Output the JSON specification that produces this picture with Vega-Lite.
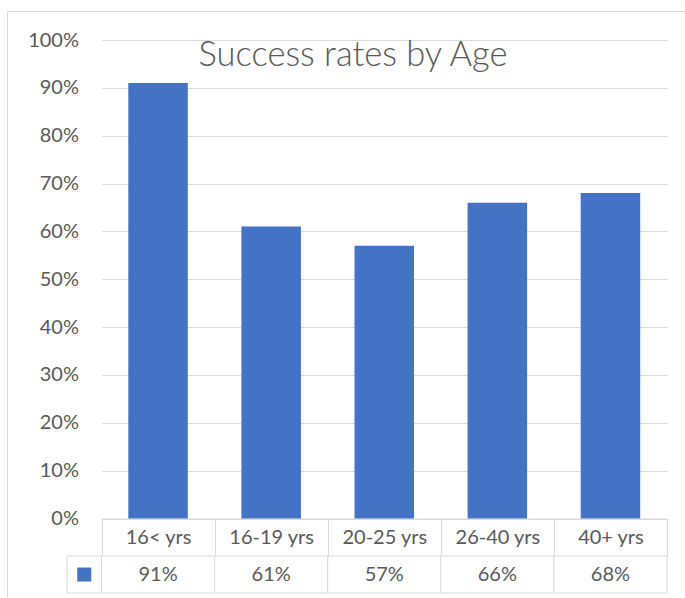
{
  "$schema": "https://vega.github.io/schema/vega-lite/v6.json",
  "width": 680,
  "height": 590,
  "autosize": "none",
  "padding": {"left": 7, "top": 11, "right": 0, "bottom": 0},
  "background": "white",
  "config": {
    "view": {"stroke": "#d9d9d9", "strokeWidth": 1},
    "font": "Lato"
  },
  "title": {
    "text": "Success rates by Age",
    "font": "Lato",
    "fontSize": 34.5,
    "fontWeight": 300,
    "color": "#595959",
    "anchor": "middle",
    "frame": "group",
    "baseline": "middle",
    "offset": -44,
    "dx": 6,
    "dy": 35
  },
  "data": {
    "values": [
      {"age": "16< yrs", "rate": 0.91},
      {"age": "16-19 yrs", "rate": 0.61},
      {"age": "20-25 yrs", "rate": 0.57},
      {"age": "26-40 yrs", "rate": 0.66},
      {"age": "40+ yrs", "rate": 0.68}
    ]
  },
  "layer": [
    {
      "mark": {"type": "bar", "color": "#4472c4", "width": {"band": 0.526}},
      "encoding": {
        "x": {
          "field": "age", "type": "nominal", "sort": null,
          "scale": {"range": [94.5, 660], "paddingInner": 0, "paddingOuter": 0},
          "axis": {
            "title": null, "orient": "bottom", "offset": -82.5,
            "domain": true, "domainColor": "#d9d9d9", "domainWidth": 1,
            "ticks": true, "tickBand": "extent", "tickSize": 38, "tickColor": "#d9d9d9", "tickWidth": 1,
            "labelAngle": 0, "labelAlign": "center", "labelBaseline": "middle",
            "labelPadding": -19.5, "labelFont": "Lato", "labelFontSize": 20, "labelColor": "#595959"
          }
        },
        "y": {
          "field": "rate", "type": "quantitative",
          "scale": {"domain": [0, 1], "range": [507.5, 29], "nice": false},
          "axis": {
            "title": null, "orient": "left", "offset": -94.5,
            "domain": false, "ticks": false, "tickSize": 0,
            "grid": true, "gridColor": "#d9d9d9", "gridWidth": 1,
            "values": [0, 0.1, 0.2, 0.3, 0.4, 0.5, 0.6, 0.7, 0.8, 0.9, 1],
            "format": ".0%", "labelPadding": 23, "labelFont": "Lato", "labelFontSize": 20, "labelColor": "#595959"
          }
        }
      }
    },
    {
      "mark": {"type": "rect", "fill": "white", "stroke": "#d9d9d9", "strokeWidth": 1},
      "encoding": {
        "x": {"field": "age", "type": "nominal", "sort": null,
              "scale": {"range": [94.5, 660], "paddingInner": 0, "paddingOuter": 0}, "axis": null},
        "y": {"datum": "values", "type": "nominal",
              "scale": {"range": [545, 582], "paddingInner": 0, "paddingOuter": 0}, "axis": null}
      }
    },
    {
      "mark": {"type": "text", "font": "Lato", "fontSize": 20, "color": "#595959", "baseline": "middle"},
      "encoding": {
        "x": {"field": "age", "type": "nominal", "sort": null,
              "scale": {"range": [94.5, 660], "paddingInner": 0, "paddingOuter": 0}, "axis": null},
        "y": {"datum": "values", "type": "nominal",
              "scale": {"range": [545, 582], "paddingInner": 0, "paddingOuter": 0}, "axis": null},
        "text": {"field": "rate", "type": "quantitative", "format": ".0%"}
      }
    },
    {
      "data": {"values": [{"series": "Success rate"}]},
      "mark": {"type": "rect", "fill": "white", "stroke": "#d9d9d9", "strokeWidth": 1},
      "encoding": {
        "x": {"field": "series", "type": "nominal",
              "scale": {"range": [60, 94.5], "paddingInner": 0, "paddingOuter": 0}, "axis": null},
        "y": {"field": "series", "type": "nominal",
              "scale": {"range": [545, 582], "paddingInner": 0, "paddingOuter": 0}, "axis": null}
      }
    },
    {
      "data": {"values": [{"series": "Success rate"}]},
      "mark": {"type": "point", "shape": "square", "filled": true, "size": 196, "color": "#4472c4", "opacity": 1},
      "encoding": {
        "x": {"field": "series", "type": "nominal",
              "scale": {"range": [60, 94.5], "paddingInner": 0, "paddingOuter": 0}, "axis": null},
        "y": {"field": "series", "type": "nominal",
              "scale": {"range": [545, 582], "paddingInner": 0, "paddingOuter": 0}, "axis": null}
      }
    }
  ],
  "resolve": {"scale": {"x": "independent", "y": "independent"}}
}
